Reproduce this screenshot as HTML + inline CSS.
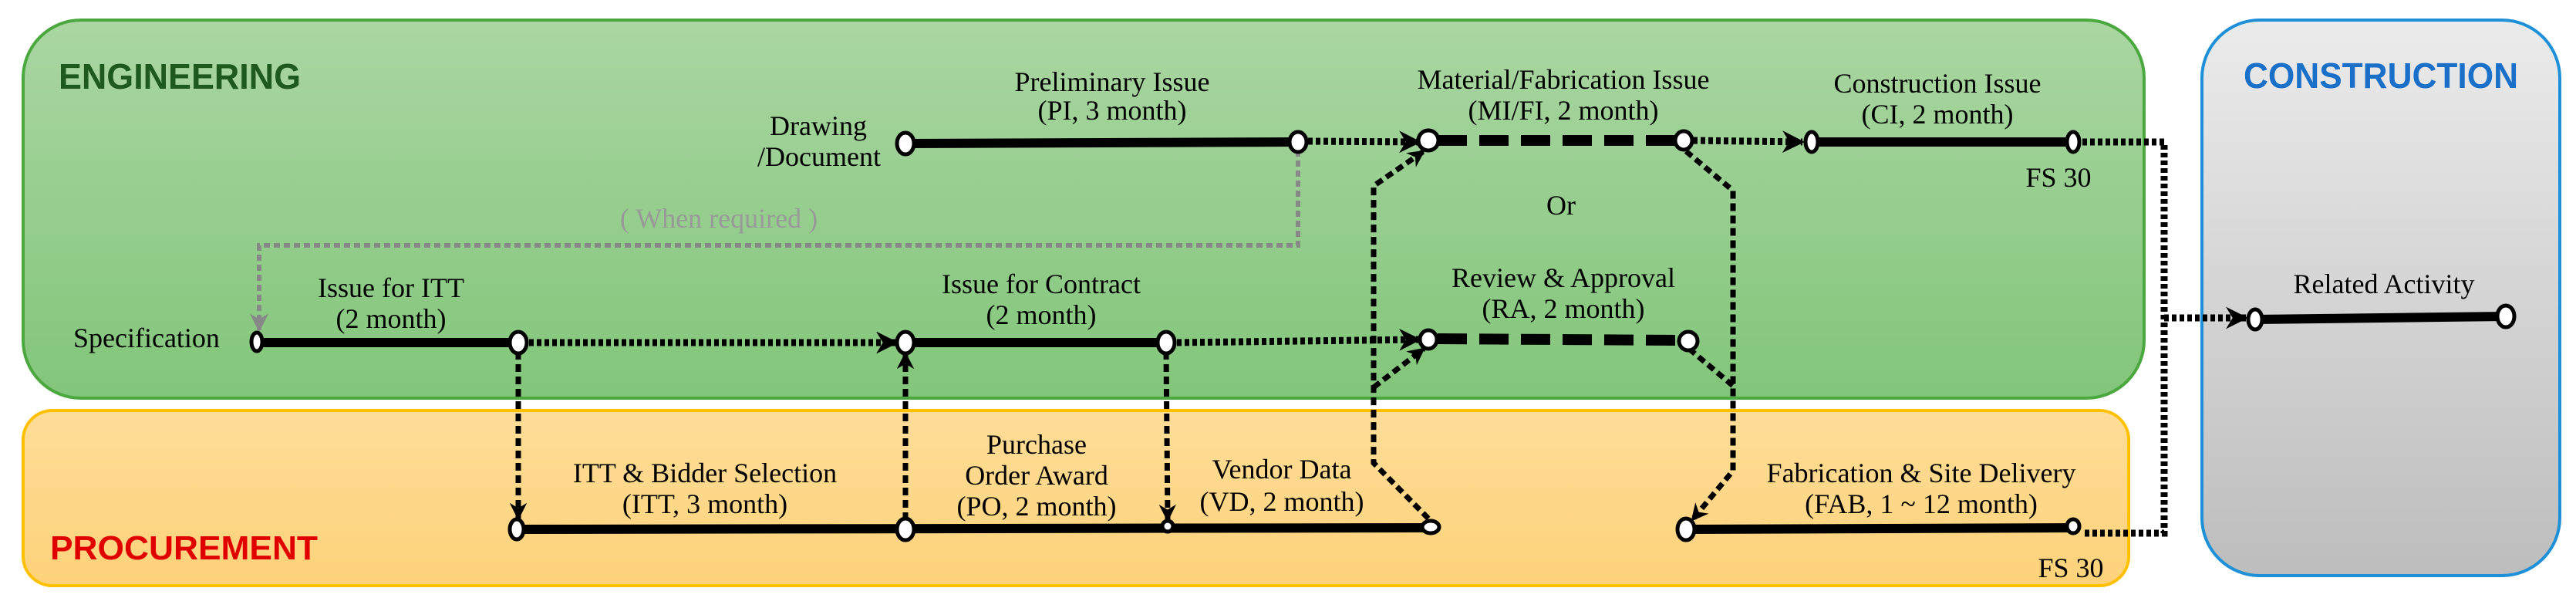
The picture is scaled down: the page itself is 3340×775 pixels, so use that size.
<!DOCTYPE html>
<html><head><meta charset="utf-8"><style>
html,body{margin:0;padding:0;background:#fff;width:3340px;height:775px;overflow:hidden}
svg{display:block}
text{font-family:"Liberation Serif",serif;font-size:36px;fill:#000}
.c{text-anchor:middle}
</style></head><body>
<svg width="3340" height="775" viewBox="0 0 3340 775" xmlns="http://www.w3.org/2000/svg">
<defs>
<linearGradient id="g" x1="0" y1="0" x2="0" y2="1"><stop offset="0" stop-color="#aad6a2"/><stop offset="1" stop-color="#82c67a"/></linearGradient>
<linearGradient id="y" x1="0" y1="0" x2="0" y2="1"><stop offset="0" stop-color="#fedd98"/><stop offset="1" stop-color="#fdd27a"/></linearGradient>
<linearGradient id="gr" x1="0" y1="0" x2="0" y2="1"><stop offset="0" stop-color="#ebebeb"/><stop offset="1" stop-color="#bdbdbd"/></linearGradient>
<marker id="a" viewBox="0 0 10 10" refX="9" refY="5" markerWidth="3.2" markerHeight="3.2" orient="auto" markerUnits="strokeWidth"><path d="M0,0 L10,5 L0,10 L3,5 z" fill="#000"/></marker>
<marker id="ag" viewBox="0 0 10 10" refX="9" refY="5" markerWidth="4" markerHeight="4" orient="auto" markerUnits="strokeWidth"><path d="M0,0 L10,5 L0,10 L3,5 z" fill="#888"/></marker>
</defs>
<rect x="30" y="26" width="2750" height="490" rx="75" fill="url(#g)" stroke="#4aa83f" stroke-width="4"/>
<rect x="30" y="532" width="2730" height="227" rx="38" fill="url(#y)" stroke="#ffc000" stroke-width="4"/>
<rect x="2855" y="26" width="464" height="720" rx="75" fill="url(#gr)" stroke="#1e90d8" stroke-width="4"/>
<text x="76" y="115" style="font-family:'Liberation Sans',sans-serif;font-weight:bold;font-size:46px;fill:#1e5a1e" textLength="314" lengthAdjust="spacingAndGlyphs">ENGINEERING</text>
<text x="65" y="725" style="font-family:'Liberation Sans',sans-serif;font-weight:bold;font-size:44px;fill:#e00000" textLength="347" lengthAdjust="spacingAndGlyphs">PROCUREMENT</text>
<text x="2909" y="114" style="font-family:'Liberation Sans',sans-serif;font-weight:bold;font-size:46px;fill:#1a70c8" textLength="356" lengthAdjust="spacingAndGlyphs">CONSTRUCTION</text>

<!-- gray when required -->
<polyline points="1683,195 1683,318 336,318 336,428" fill="none" stroke="#888" stroke-width="6" stroke-dasharray="8,5" marker-end="url(#ag)"/>
<text class="c" x="932" y="295" style="fill:#999">( When required )</text>

<!-- solid lines -->
<g stroke="#000" stroke-width="12" fill="none">
<line x1="1174" y1="186" x2="1682" y2="184"/>
<line x1="333" y1="444" x2="672" y2="444"/>
<line x1="1174" y1="444" x2="1512" y2="444"/>
<line x1="670" y1="686" x2="1852" y2="684"/>
<line x1="2349" y1="184" x2="2688" y2="184"/>
<line x1="2186" y1="686" x2="2688" y2="684"/>
<line x1="2924" y1="414" x2="3249" y2="410"/>
</g>
<!-- dashed heavy -->
<g stroke="#000" stroke-width="14" fill="none" stroke-dasharray="38,16">
<line x1="1864" y1="182" x2="2172" y2="182"/>
<line x1="1864" y1="439" x2="2178" y2="441"/>
</g>
<!-- dotted connectors -->
<g stroke="#000" stroke-width="9" fill="none" stroke-dasharray="6,4">
<line x1="686" y1="444" x2="1162" y2="444" marker-end="url(#a)"/>
<line x1="1526" y1="444" x2="1840" y2="440" marker-end="url(#a)"/>
<line x1="1696" y1="183" x2="1840" y2="184" marker-end="url(#a)"/>
<line x1="2195" y1="182" x2="2337" y2="184" marker-end="url(#a)"/>
<polyline points="2700,184 2806,184 2806,691 2700,691"/>
<line x1="2806" y1="412" x2="2912" y2="412" marker-end="url(#a)"/>
</g>
<g stroke="#000" stroke-width="7" fill="none" stroke-dasharray="10,6">
<line x1="672" y1="456" x2="672" y2="672" marker-end="url(#a)"/>
<line x1="1174" y1="674" x2="1174" y2="458" marker-end="url(#a)"/>
<line x1="1512" y1="456" x2="1514" y2="674" marker-end="url(#a)"/>
<polyline points="1852,672 1781,600 1781,241 1846,196" marker-end="url(#a)"/>
<polyline points="1781,502 1846,452" marker-end="url(#a)"/>
<polyline points="2186,196 2247,247 2247,610 2194,674" marker-end="url(#a)"/>
<polyline points="2190,452 2247,500"/>
</g>
<!-- nodes -->
<g fill="#fff" stroke="#000" stroke-width="5">
<ellipse cx="1174" cy="186" rx="11" ry="14"/>
<ellipse cx="1683" cy="184" rx="11" ry="13"/>
<ellipse cx="333" cy="443" rx="7" ry="12"/>
<ellipse cx="672" cy="444" rx="11" ry="14"/>
<ellipse cx="1174" cy="444" rx="11" ry="14"/>
<ellipse cx="1512" cy="444" rx="11" ry="14"/>
<ellipse cx="670" cy="686" rx="9" ry="13"/>
<ellipse cx="1174" cy="686" rx="11" ry="14"/>
<ellipse cx="1514" cy="682" rx="7" ry="7"/>
<ellipse cx="1855" cy="683" rx="11" ry="8"/>
<ellipse cx="1852" cy="182" rx="13" ry="13"/>
<ellipse cx="2183" cy="182" rx="11" ry="12"/>
<ellipse cx="1852" cy="440" rx="11" ry="12"/>
<ellipse cx="2189" cy="442" rx="12" ry="12"/>
<ellipse cx="2349" cy="184" rx="8" ry="13"/>
<ellipse cx="2688" cy="184" rx="8" ry="13"/>
<ellipse cx="2186" cy="686" rx="11" ry="14"/>
<ellipse cx="2688" cy="682" rx="8" ry="9"/>
<ellipse cx="2924" cy="414" rx="9" ry="13"/>
<ellipse cx="3249" cy="410" rx="11" ry="14"/>
</g>
<!-- labels -->
<text class="c" x="1061" y="175">Drawing</text>
<text class="c" x="1062" y="215">/Document</text>
<text class="c" x="1442" y="118">Preliminary  Issue</text>
<text class="c" x="1442" y="155">(PI, 3 month)</text>
<text x="95" y="450">Specification</text>
<text class="c" x="507" y="385">Issue for ITT</text>
<text class="c" x="507" y="425">(2 month)</text>
<text class="c" x="1350" y="380">Issue for Contract</text>
<text class="c" x="1350" y="420">(2 month)</text>
<text class="c" x="914" y="625">ITT &amp; Bidder  Selection</text>
<text class="c" x="914" y="665">(ITT, 3 month)</text>
<text class="c" x="1344" y="588">Purchase</text>
<text class="c" x="1344" y="628">Order Award</text>
<text class="c" x="1344" y="668">(PO, 2 month)</text>
<text class="c" x="1662" y="620">Vendor Data</text>
<text class="c" x="1662" y="662">(VD, 2 month)</text>
<text class="c" x="2027" y="115">Material/Fabrication  Issue</text>
<text class="c" x="2027" y="155">(MI/FI, 2 month)</text>
<text class="c" x="2024" y="278">Or</text>
<text class="c" x="2027" y="372">Review &amp; Approval</text>
<text class="c" x="2027" y="412">(RA, 2 month)</text>
<text class="c" x="2512" y="120">Construction  Issue</text>
<text class="c" x="2512" y="160">(CI, 2 month)</text>
<text class="c" x="2669" y="242">FS 30</text>
<text class="c" x="2491" y="625">Fabrication &amp; Site  Delivery</text>
<text class="c" x="2491" y="665">(FAB, 1 ~ 12 month)</text>
<text class="c" x="2685" y="748">FS 30</text>
<text class="c" x="3091" y="380">Related Activity</text>
</svg>
</body></html>
